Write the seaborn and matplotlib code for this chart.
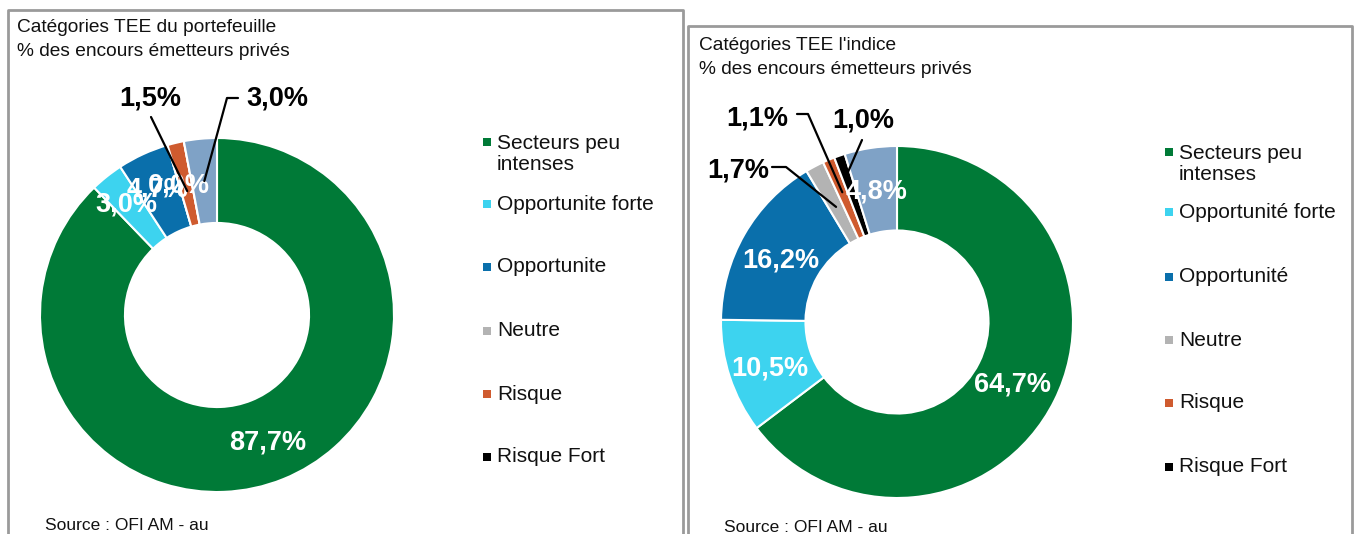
import numpy as np
import seaborn as sns
import matplotlib.pyplot as plt
from matplotlib.patches import Rectangle

sns.set_theme(style="white")
plt.rcParams['font.family'] = ['Liberation Sans', 'DejaVu Sans']

# data read off the two donuts (last slice = non couvert, no legend entry)
categories_pf = ["Secteurs peu\nintenses", "Opportunite forte", "Opportunite", "Neutre", "Risque", "Risque Fort"]
categories_idx = ["Secteurs peu\nintenses", "Opportunité forte", "Opportunité", "Neutre", "Risque", "Risque Fort"]
values_pf = [87.7, 3.0, 4.7, 0.0, 1.5, 0.0, 3.0]
values_idx = [64.7, 10.5, 16.2, 1.7, 1.1, 1.0, 4.8]
colors = ["#007A37", "#3DD3EF", "#0A6FAB", "#B3B3B3", "#CF5B2F", "#000000", "#7FA2C6"]

W, H = 1354, 534
fig = plt.figure(figsize=(W / 100, H / 100), dpi=100)
ax = fig.add_axes([0, 0, 1, 1])


def fmt(v):
    return f"{v:.1f}".replace(".", ",") + "%"


def wedge_point(w, cx, cy, r):
    a = np.deg2rad((w.theta1 + w.theta2) / 2)
    return cx + r * np.cos(a), cy + r * np.sin(a)


def draw_donut(values, cats, cx, cy, R, inside, leaders, leg_x, leg_y, dy=0):
    cy = H - cy
    wedges, _ = ax.pie(values, colors=colors, startangle=90, counterclock=False,
                       center=(cx, cy), radius=R,
                       wedgeprops=dict(width=R * 0.48, edgecolor="white", linewidth=1.5))
    # labels inside the ring
    for i, frac in inside.items():
        x, y = wedge_point(wedges[i], cx, cy, R * frac)
        ax.text(x, y - dy, fmt(values[i]), color="white", fontsize=19.5, fontweight="bold",
                ha="center", va="center", zorder=5)
    # labels with leader lines
    for i, (tx, ty, path, frac) in leaders.items():
        ax.text(tx, H - ty, fmt(values[i]), color="black", fontsize=19.5, fontweight="bold",
                ha="center", va="center", zorder=5)
        ex, ey = wedge_point(wedges[i], cx, cy, R * frac)
        xs = [p[0] for p in path] + [ex]
        ys = [H - p[1] for p in path] + [ey]
        ax.plot(xs, ys, color="black", lw=1.6, zorder=6)
    # legend
    for i, name in enumerate(cats):
        y = H - leg_y[i]
        ax.add_patch(Rectangle((leg_x, y - 4), 8, 8, color=colors[i], lw=0))
        if "\n" in name:
            ax.text(leg_x + 14, y + 8, name, fontsize=15, va="top", ha="left",
                    linespacing=1.15, color="#111111")
        else:
            ax.text(leg_x + 14, y, name, fontsize=15, va="center", ha="left", color="#111111")


draw_donut(values_pf, categories_pf, 217, 315, 177,
           inside={0: 0.76, 1: 0.82, 2: 0.8, 3: 0.78},
           leaders={4: (150, 98, [(151, 117)], 0.72),
                    6: (277, 99, [(238, 98), (227, 98)], 0.76)},
           leg_x=483, leg_y=[142, 204, 267, 331, 394, 457], dy=3)

draw_donut(values_idx, categories_idx, 897, 322, 176,
           inside={0: 0.73, 1: 0.76, 2: 0.76, 6: 0.78},
           leaders={3: (738, 171, [(772, 167), (786, 167)], 0.74),
                    4: (757, 118, [(797, 114), (808, 114)], 0.8),
                    5: (863, 121, [(862, 140)], 0.88)},
           leg_x=1165, leg_y=[152, 212, 277, 340, 403, 467], dy=5)

# panel frames
ax.plot([8, 8, 683, 683], [0, H - 10, H - 10, 0], color="#9A9A9A", lw=2)
ax.plot([688, 688, 1352, 1352], [0, H - 26, H - 26, 0], color="#9A9A9A", lw=2)

# titles and source
ax.text(17, H - 28, "Catégories TEE du portefeuille", fontsize=13.8, va="center", color="#111111")
ax.text(17, H - 52, "% des encours émetteurs privés", fontsize=13.8, va="center", color="#111111")
ax.text(699, H - 46, "Catégories TEE l'indice", fontsize=13.8, va="center", color="#111111")
ax.text(699, H - 70, "% des encours émetteurs privés", fontsize=13.8, va="center", color="#111111")
ax.text(45, H - 526, "Source : OFI AM - au", fontsize=12.5, va="center", color="#111111")
ax.text(724, H - 528, "Source : OFI AM - au", fontsize=12.5, va="center", color="#111111")

ax.set_xlim(0, W)
ax.set_ylim(0, H)
ax.set_aspect("equal")
ax.axis("off")

fig.savefig("out.png", dpi=100, facecolor="white")
